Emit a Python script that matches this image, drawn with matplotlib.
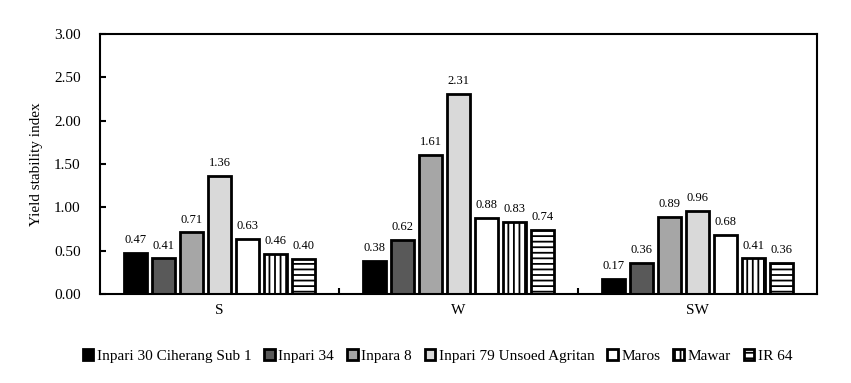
import matplotlib
matplotlib.use("Agg")
import matplotlib.pyplot as plt
import numpy as np

plt.rcParams['font.family'] = ['Liberation Serif', 'DejaVu Serif']
plt.rcParams['hatch.linewidth'] = 1.3

groups = ["S", "W", "SW"]
series = ["Inpari 30 Ciherang Sub 1", "Inpari 34", "Inpara 8",
          "Inpari 79 Unsoed Agritan", "Maros", "Mawar", "IR 64"]
inpari30 = [0.47, 0.38, 0.17]
inpari34 = [0.41, 0.62, 0.36]
inpara8 = [0.71, 1.61, 0.89]
inpari79 = [1.36, 2.31, 0.96]
maros = [0.63, 0.88, 0.68]
mawar = [0.46, 0.83, 0.41]
ir64 = [0.40, 0.74, 0.36]
values = [inpari30, inpari34, inpara8, inpari79, maros, mawar, ir64]

colors = ["#000000", "#595959", "#a6a6a6", "#d9d9d9", "#ffffff", "#ffffff", "#ffffff"]
hatches = [None, None, None, None, None, "|||", "---"]

fig = plt.figure(figsize=(8.51, 3.83), dpi=100)
ax = fig.add_axes([0.1175, 0.2324, 0.8425, 0.6786])

x = np.arange(len(groups))
step = 0.117
width = 0.095
for i, (name, vals) in enumerate(zip(series, values)):
    pos = x + (i - 3) * step
    bars = ax.bar(pos, vals, width=width, color=colors[i], edgecolor="black",
                  linewidth=2, hatch=hatches[i], label=name)
    for b, v in zip(bars, vals):
        ax.text(b.get_x() + b.get_width() / 2, v + 0.08, f"{v:.2f}",
                ha="center", va="bottom", fontsize=9)

ax.set_xlim(-0.5, 2.5)
ax.set_ylim(0, 3.0)
ax.set_yticks(np.arange(0, 3.01, 0.5))
ax.set_yticklabels([f"{t:.2f}" for t in np.arange(0, 3.01, 0.5)], fontsize=11)
ax.set_xticks(x)
ax.set_xticklabels(groups, fontsize=11)
ax.tick_params(axis="x", length=0, pad=7)
ax.set_xticks([0.5, 1.5], minor=True)
ax.tick_params(axis="x", which="minor", direction="in", length=4, width=1.5)
ax.tick_params(axis="y", direction="in", length=4, width=1.5, pad=14)
for s in ax.spines.values():
    s.set_linewidth(1.5)
ax.set_ylabel("Yield stability index", fontsize=11, labelpad=8)

fig.legend(loc="upper center", bbox_to_anchor=(0.514, 0.105), ncol=7, frameon=False,
           fontsize=11, handlelength=0.7, handleheight=0.7, handletextpad=0.22,
           columnspacing=0.85, borderaxespad=0)

fig.savefig("out.png", dpi=100)
